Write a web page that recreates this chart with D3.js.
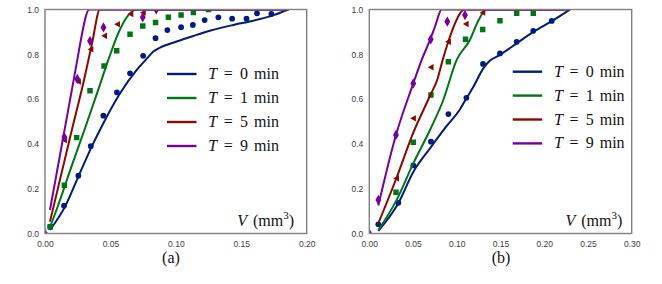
<!DOCTYPE html>
<html><head><meta charset="utf-8">
<script src="https://cdn.jsdelivr.net/npm/d3@7"></script>
<style>body{margin:0;background:#fff}svg{display:block}</style>
</head><body>
<svg id="chart" width="662" height="284"></svg>
<script>
// ---------- data ----------
const seriesNames = ["T = 0 min", "T = 1 min", "T = 5 min", "T = 9 min"];
const seriesTimes = ["0", "1", "5", "9"];
const colors = ["#001C7F", "#017517", "#8C0900", "#7600A1"];

// Panel (a) model curves [V, fraction]
const aLine0 = [[0.0038,0.016],[0.0153,0.12],[0.0255,0.254],[0.0357,0.388],[0.0459,0.507],[0.0574,0.626],[0.0701,0.73],[0.0785,0.785],[0.0828,0.812],[0.088,0.83],[0.1,0.856],[0.1134,0.882],[0.126,0.905],[0.144,0.931],[0.159,0.95],[0.1746,0.975],[0.186,1.0]];
const aLine1 = [[0.0038,0.028],[0.01,0.125],[0.02,0.295],[0.03,0.46],[0.04,0.63],[0.0484,0.775],[0.056,0.894],[0.0637,0.975],[0.0701,1.0],[0.186,1.0]];
const aLine5 = [[0.0038,0.053],[0.02,0.45],[0.03,0.69],[0.036,0.85],[0.042,1.0],[0.186,1.0]];
const aLine9 = [[0.0038,0.105],[0.0247,0.775],[0.0268,0.845],[0.0339,1.0],[0.186,1.0]];
// Panel (a) measurements
const aPts0 = [[0.004,0.029],[0.0145,0.124],[0.0255,0.258],[0.035,0.39],[0.0446,0.526],[0.055,0.63],[0.065,0.715],[0.075,0.793],[0.0845,0.872],[0.0935,0.908],[0.104,0.921],[0.113,0.931],[0.122,0.953],[0.1325,0.965],[0.143,0.959],[0.154,0.959],[0.162,0.983],[0.173,0.98]];
const aPts1 = [[0.004,0.03],[0.0148,0.215],[0.0242,0.428],[0.0344,0.637],[0.0451,0.748],[0.0548,0.816],[0.065,0.89],[0.0747,0.926],[0.0845,0.942],[0.0943,0.965],[0.104,0.975],[0.1134,0.986],[0.125,1.0]];
const aPts5 = [[0.0148,0.417],[0.0255,0.678],[0.035,0.822],[0.0454,0.883],[0.0553,0.934],[0.0655,0.98],[0.075,0.986]];
const aPts9 = [[0,0],[0.0148,0.43],[0.0247,0.69],[0.0344,0.859],[0.0447,0.92],[0.0747,0.965],[0.085,1.0]];

// Panel (b) model curves
const bLine0 = [[0.0103,0.012],[0.0332,0.135],[0.0503,0.275],[0.0694,0.38],[0.0885,0.48],[0.1037,0.555],[0.111,0.603],[0.119,0.655],[0.13,0.735],[0.138,0.772],[0.1494,0.797],[0.1685,0.849],[0.1875,0.9],[0.2085,0.948],[0.2295,1.0]];
const bLine1 = [[0.0103,0.015],[0.0313,0.15],[0.0503,0.313],[0.0694,0.462],[0.0846,0.596],[0.0999,0.775],[0.115,0.864],[0.125,0.953],[0.134,1.0],[0.2295,1.0]];
const bLine5 = [[0.0103,0.045],[0.0313,0.25],[0.0503,0.45],[0.0694,0.615],[0.078,0.69],[0.0839,0.775],[0.0903,0.856],[0.098,0.938],[0.1037,0.983],[0.109,1.0],[0.2295,1.0]];
const bLine9 = [[0.0103,0.125],[0.0305,0.44],[0.0503,0.67],[0.0599,0.775],[0.0694,0.864],[0.0751,0.923],[0.0828,1.0],[0.2295,1.0]];
// Panel (b) measurements
const bPts0 = [[0.0103,0.041],[0.0332,0.137],[0.0503,0.304],[0.0705,0.41],[0.0904,0.533],[0.111,0.606],[0.13,0.757],[0.1494,0.804],[0.1685,0.856],[0.1875,0.905],[0.2085,0.949]];
const bPts1 = [[0.0305,0.184],[0.0503,0.407],[0.0705,0.618],[0.0904,0.767],[0.110,0.867],[0.1296,0.911],[0.1494,0.95],[0.1685,0.983],[0.1875,0.983]];
const bPts5 = [[0.031,0.246],[0.0503,0.514],[0.0705,0.742],[0.0903,0.856],[0.1106,0.935],[0.1296,0.986]];
const bPts9 = [[0,0],[0.0103,0.15],[0.0305,0.44],[0.0503,0.67],[0.0702,0.867],[0.0892,0.946],[0.1094,0.975]];

const aXTicks = [0, 0.05, 0.10, 0.15, 0.20];
const bXTicks = [0, 0.05, 0.10, 0.15, 0.20, 0.25, 0.30];
const yTicks = [0, 0.2, 0.4, 0.6, 0.8, 1.0];

// ---------- drawing ----------
const svg = d3.select("#chart");
const panels = [
  {id:"a", label:"(a)", x0:45, x1:306.7, xmax:0.2, xTicks:aXTicks, lines:[aLine0,aLine1,aLine5,aLine9], pts:[aPts0,aPts1,aPts5,aPts9],
   legX:167, legY:74, legDy:24, labCx:171, vEnd:294},
  {id:"b", label:"(b)", x0:369.3, x1:631.7, xmax:0.3, xTicks:bXTicks, lines:[bLine0,bLine1,bLine5,bLine9], pts:[bPts0,bPts1,bPts5,bPts9],
   legX:512.7, legY:71.7, legDy:23.9, labCx:501, vEnd:622.3}
];
const plotTop = 9.5, plotBottom = 233.5;
const serif = "'Liberation Serif','Times New Roman',serif";
const sans = "'Liberation Sans',Arial,sans-serif";

const symbols = [d3.symbolCircle, d3.symbolSquare, "triL", d3.symbolDiamond];

panels.forEach(p => {
  const x = d3.scaleLinear().domain([0, p.xmax]).range([p.x0, p.x1]);
  const y = d3.scaleLinear().domain([0, 1]).range([plotBottom, plotTop]);
  const g = svg.append("g");

  g.append("clipPath").attr("id", "clip-" + p.id)
    .append("rect").attr("x", p.x0).attr("y", plotTop).attr("width", p.x1 - p.x0).attr("height", plotBottom - plotTop);

  const xa = g.append("g").attr("transform", `translate(0,${plotBottom})`)
    .call(d3.axisBottom(x).tickValues(p.xTicks).tickFormat(d3.format(".2f")).tickSize(0).tickPadding(7));
  const ya = g.append("g").attr("transform", `translate(${p.x0},0)`)
    .call(d3.axisLeft(y).tickValues(yTicks).tickFormat(d3.format(".1f")).tickSize(0).tickPadding(6));
  [xa, ya].forEach(a => {
    a.select(".domain").remove();
    a.selectAll("text").attr("font-family", sans).attr("font-size", 8.5).attr("fill", "#3c3c3c");
  });

  const plot = g.append("g").attr("clip-path", `url(#clip-${p.id})`);
  const line = d3.line().x(d => x(d[0])).y(d => y(d[1])).curve(d3.curveMonotoneX);

  for (let i = 0; i < 4; i++) {
    plot.append("path").datum(p.lines[i]).attr("d", line)
      .attr("fill", "none").attr("stroke", colors[i]).attr("stroke-width", 2)
      .attr("stroke-linejoin", "round");
    const sym = symbols[i];
    plot.selectAll(null).data(p.pts[i]).enter().append("path")
      .attr("transform", d => `translate(${x(d[0])},${y(d[1])})`)
      .attr("d", sym === "triL" ? "M-3.2,0L2.6,-3.2L2.6,3.2Z"
                 : d3.symbol().type(sym).size(i === 0 ? 26 : 30)())
      .attr("fill", colors[i]);
  }

  g.append("rect").attr("x", p.x0).attr("y", plotTop).attr("width", p.x1 - p.x0).attr("height", plotBottom - plotTop)
    .attr("fill", "none").attr("stroke", "#808080").attr("stroke-width", 1.4);

  const leg = g.append("g");
  for (let i = 0; i < 4; i++) {
    const ly = p.legY + i * p.legDy;
    leg.append("line").attr("x1", p.legX).attr("x2", p.legX + 29.5).attr("y1", ly).attr("y2", ly)
      .attr("stroke", colors[i]).attr("stroke-width", 2.4);
    const tx = p.legX + 41.3;
    const t = leg.append("text").attr("y", ly + 5).attr("font-family", serif).attr("font-size", 16).attr("fill", "#111");
    t.append("tspan").attr("x", tx).attr("font-style", "italic").text("T");
    t.append("tspan").attr("x", tx + 15.5).text("=");
    t.append("tspan").attr("x", tx + 31.7).text(seriesTimes[i]);
    t.append("tspan").attr("x", tx + 45.7).text("min");
  }

  const vt = g.append("text").attr("x", p.vEnd).attr("y", 225.5).attr("text-anchor", "end")
    .attr("font-family", serif).attr("font-size", 16).attr("fill", "#111");
  vt.append("tspan").attr("font-style", "italic").text("V");
  vt.append("tspan").attr("dx", 6).text("(mm");
  vt.append("tspan").attr("font-size", 11).attr("dy", -6.5).text("3");
  vt.append("tspan").attr("dy", 6.5).text(")");

  g.append("text").attr("x", p.labCx).attr("y", 263).attr("text-anchor", "middle")
    .attr("font-family", serif).attr("font-size", 16).attr("fill", "#111").text(p.label);
});
</script>
</body></html>
